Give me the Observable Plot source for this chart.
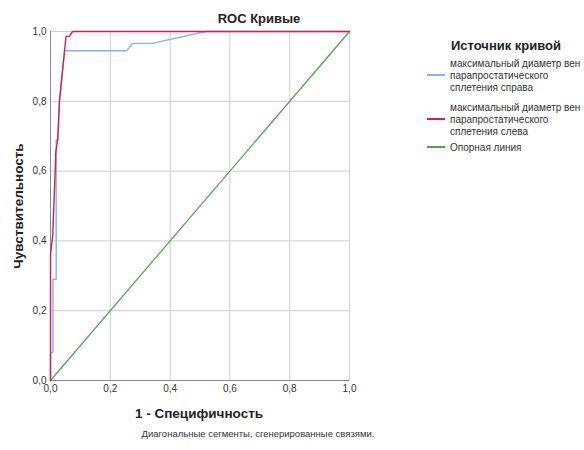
<!DOCTYPE html>
<html>
<head>
<meta charset="utf-8">
<script src="https://cdn.jsdelivr.net/npm/d3@7"></script>
<script src="https://cdn.jsdelivr.net/npm/@observablehq/plot@0.6"></script>
<style>
  html, body { margin: 0; padding: 0; background: #fff; overflow: hidden; }
  #wrap { position: relative; width: 584px; height: 450px; font-family: "Liberation Sans", Arial, sans-serif; color: #222; }
  .abs { position: absolute; white-space: nowrap; }
  .title { font-weight: bold; font-size: 13px; }
  .axlab { font-weight: bold; font-size: 13.5px; }
  .note { font-size: 9.5px; color: #333; }
  .leg { font-size: 10px; color: #333; }
  .sw { position: absolute; height: 1.5px; }
</style>
</head>
<body>
<div id="wrap"></div>
<script>
// ---- data ----
const ticks = [0, 0.2, 0.4, 0.6, 0.8, 1.0];

// Right-side curve (blue)
const rightFpr = [0, 0, 0.008, 0.008, 0.019, 0.019, 0.025, 0.03, 0.047, 0.255, 0.275, 0.34, 0.52, 1.0];
const rightTpr = [0, 0.08, 0.08, 0.29, 0.29, 0.69, 0.69, 0.80, 0.945, 0.945, 0.966, 0.966, 1.0, 1.0];

// Left-side curve (red)
const leftFpr = [0, 0, 0.008, 0.008, 0.017, 0.017, 0.024, 0.03, 0.047, 0.052, 0.063, 0.074, 1.0];
const leftTpr = [0, 0.36, 0.42, 0.43, 0.63, 0.65, 0.69, 0.80, 0.945, 0.986, 0.986, 1.0, 1.0];

// Reference line (green)
const refX = [0, 1];
const refY = [0, 1];

const seriesNames = [
  ["максимальный диаметр вен", "парапростатического", "сплетения справа"],
  ["максимальный диаметр вен", "парапростатического", "сплетения слева"],
  ["Опорная линия"]
];
const seriesColors = ["#86b2ee", "#d61f50", "#4fa54a"];

const titleText = "ROC Кривые";
const xLabel = "1 - Специфичность";
const yLabel = "Чувствительность";
const legendTitle = "Источник кривой";
const footnote = "Диагональные сегменты, сгенерированные связями.";

// ---- build ----
const toPts = (xs, ys) => xs.map((x, i) => ({x, y: ys[i]}));
const fmt = d => d.toFixed(1).replace(".", ",");

const chart = Plot.plot({
  width: 584,
  height: 450,
  marginLeft: 50,
  marginRight: 235,
  marginTop: 31,
  marginBottom: 70,
  style: {fontFamily: "'Liberation Sans', Arial, sans-serif", fontSize: "10px", color: "#333", background: "transparent"},
  x: {domain: [0, 1]},
  y: {domain: [0, 1]},
  marks: [
    Plot.gridX(ticks, {stroke: "#cfcfcf", strokeOpacity: 1}),
    Plot.gridY(ticks, {stroke: "#cfcfcf", strokeOpacity: 1}),
    Plot.axisX({ticks, tickSize: 0, tickPadding: 4, tickFormat: fmt, label: null}),
    Plot.axisY({ticks, tickSize: 0, tickPadding: 4, tickFormat: fmt, label: null}),
    Plot.ruleX([0], {stroke: "#8a8a8a"}),
    Plot.ruleY([0], {stroke: "#8a8a8a"}),
    Plot.line(toPts(refX, refY), {x: "x", y: "y", stroke: seriesColors[2], strokeWidth: 1.2}),
    Plot.line(toPts(rightFpr, rightTpr), {x: "x", y: "y", stroke: seriesColors[0], strokeWidth: 1.4}),
    Plot.line(toPts(leftFpr, leftTpr), {x: "x", y: "y", stroke: seriesColors[1], strokeWidth: 1.4})
  ]
});

const wrap = document.getElementById("wrap");
chart.style.position = "absolute";
chart.style.left = "0px";
chart.style.top = "0px";
wrap.appendChild(chart);

function addText(cls, text, left, top, extra) {
  const d = document.createElement("div");
  d.className = "abs " + cls;
  d.textContent = text;
  d.style.left = left + "px";
  d.style.top = top + "px";
  if (extra) Object.assign(d.style, extra);
  wrap.appendChild(d);
  return d;
}

addText("title", titleText, 259, 18, {transform: "translate(-50%,-50%)"});
addText("axlab", xLabel, 199, 413, {transform: "translate(-50%,-50%)"});
addText("axlab", yLabel, 18, 206, {transform: "translate(-50%,-50%) rotate(-90deg)"});
addText("note", footnote, 258, 433, {transform: "translate(-50%,-50%)"});
addText("title", legendTitle, 506, 45, {transform: "translate(-50%,-50%)"});

// legend entries
const blockStarts = [63, 107, 147];
const lineH = 12.2;
seriesNames.forEach((lines, i) => {
  lines.forEach((ln, j) => {
    addText("leg", ln, 450, blockStarts[i] + j * lineH, {transform: "translateY(-50%)"});
  });
  const mid = blockStarts[i] + (lines.length - 1) * lineH / 2;
  const sw = document.createElement("div");
  sw.className = "sw";
  sw.style.left = "427px";
  sw.style.width = "18px";
  sw.style.top = (mid - 0.75) + "px";
  sw.style.background = seriesColors[i];
  wrap.appendChild(sw);
});
</script>
</body>
</html>
